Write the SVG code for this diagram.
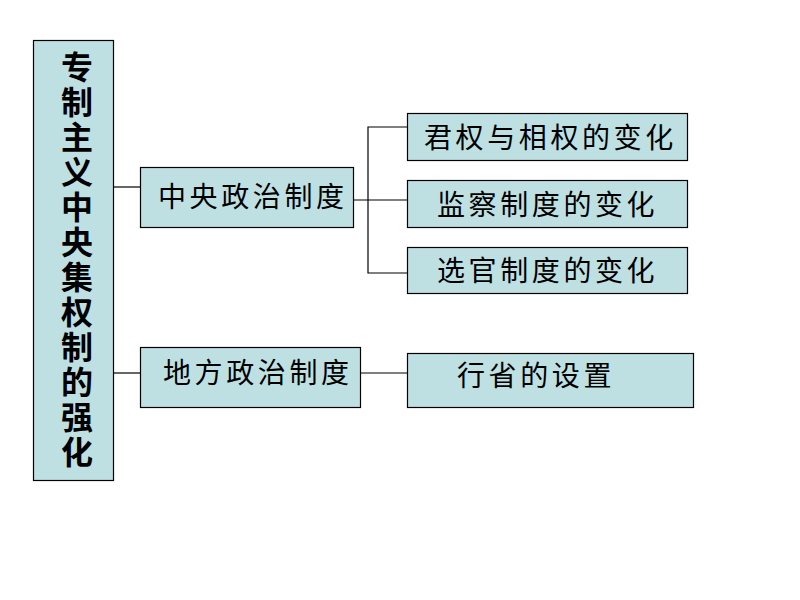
<svg xmlns="http://www.w3.org/2000/svg" width="800" height="600" viewBox="0 0 800 600">
<style>
.box{fill:#BFE0E2;stroke:#000;stroke-width:1.2}
.t{font-family:"Liberation Sans","Noto Sans CJK SC",sans-serif;font-size:28px;fill:#000;letter-spacing:3.6px}
.v{font-family:"Liberation Sans","Noto Sans CJK SC",sans-serif;font-size:32px;font-weight:bold;fill:#000;text-anchor:middle}
.c{fill:none;stroke:#000;stroke-width:1.2}
</style>
<rect width="800" height="600" fill="#fff"/>
<g id="connectors">
<line class="c" x1="113" y1="187" x2="140" y2="187"/>
<line class="c" x1="113" y1="373" x2="140" y2="373"/>
<line class="c" x1="353" y1="200" x2="407" y2="200"/>
<polyline class="c" points="407,127 368,127 368,273 407,273"/>
<line class="c" x1="360" y1="373" x2="407" y2="373"/>
</g>
<g id="root">
<rect class="box" x="33.5" y="40.5" width="80" height="440"/>
<text class="v" x="77" y="79">专</text>
<text class="v" x="77" y="114">制</text>
<text class="v" x="77" y="149">主</text>
<text class="v" x="77" y="184">义</text>
<text class="v" x="77" y="219">中</text>
<text class="v" x="77" y="254">央</text>
<text class="v" x="77" y="289">集</text>
<text class="v" x="77" y="324">权</text>
<text class="v" x="77" y="359">制</text>
<text class="v" x="77" y="394">的</text>
<text class="v" x="77" y="429">强</text>
<text class="v" x="77" y="464">化</text>
</g>
<g id="central">
<rect class="box" x="140.5" y="167.5" width="213" height="60"/>
<text class="t" x="158" y="207">中央政治制度</text>
</g>
<g id="local">
<rect class="box" x="140.5" y="347.5" width="220" height="60"/>
<text class="t" x="163" y="383">地方政治制度</text>
</g>
<g id="n1">
<rect class="box" x="407.5" y="113.5" width="280" height="47"/>
<text class="t" x="424" y="148">君权与相权的变化</text>
</g>
<g id="n2">
<rect class="box" x="407.5" y="180.5" width="280" height="47"/>
<text class="t" x="437" y="215">监察制度的变化</text>
</g>
<g id="n3">
<rect class="box" x="407.5" y="247.5" width="280" height="46"/>
<text class="t" x="437" y="281">选官制度的变化</text>
</g>
<g id="n4">
<rect class="box" x="407.5" y="353.5" width="286" height="54"/>
<text class="t" x="457" y="386">行省的设置</text>
</g>
</svg>
